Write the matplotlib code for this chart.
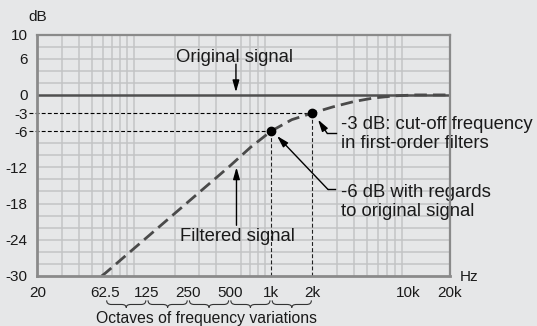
import numpy as np
import matplotlib
matplotlib.use("Agg")
import matplotlib.pyplot as plt
from matplotlib.path import Path
from matplotlib.patches import PathPatch
from matplotlib.ticker import LogLocator, NullFormatter
from matplotlib.transforms import blended_transform_factory

plt.rcParams["font.family"] = ["Liberation Sans", "DejaVu Sans"]

# values
FREQ_HZ = [58.6, 62.5, 125, 250, 500, 707, 1000, 1414, 2000, 2800, 4000, 5600, 8000, 11300, 20000]
GAIN_DB = [-30, -29.5, -23.6, -17.7, -11.8, -8.7, -6.0, -4.1, -3.0, -2.0, -1.1, -0.5, -0.15, 0, 0]

MARK_FREQ = [1000, 2000]
MARK_DB = [-6, -3]

X_TICKS = [20, 62.5, 125, 250, 500, 1000, 2000, 10000, 20000]
X_LABELS = ["20", "62.5", "125", "250", "500", "1k", "2k", "10k", "20k"]
Y_TICKS = [10, 6, 0, -3, -6, -12, -18, -24, -30]
OCTAVES = [(62.5, 125), (125, 250), (250, 500), (500, 1000), (1000, 2000)]

BG = "#e6e7e8"
GRID = "#c3c4c5"
SPINE = "#8a8a8a"
TEXT = "#1a1a1a"


def draw_brace(ax, x0, x1, y_top=-0.101, y_mid=-0.118, y_tip=-0.131):
    # under-brace between two frequencies, x in data, y in axes coords
    trans = blended_transform_factory(ax.transData, ax.transAxes)
    l0, l1 = np.log10(x0) + 0.008, np.log10(x1) - 0.008
    lm = (l0 + l1) / 2
    d = (l1 - l0) * 0.12
    pts = [
        (l0, y_top), (l0, y_mid), (l0 + d, y_mid),
        (lm - d, y_mid), (lm, y_mid), (lm, y_tip),
        (lm, y_mid), (lm + d, y_mid),
        (l1 - d, y_mid), (l1, y_mid), (l1, y_top),
    ]
    codes = [Path.MOVETO, Path.CURVE3, Path.CURVE3,
             Path.LINETO, Path.CURVE3, Path.CURVE3,
             Path.CURVE3, Path.CURVE3,
             Path.LINETO, Path.CURVE3, Path.CURVE3]
    verts = [(10 ** x, y) for x, y in pts]
    patch = PathPatch(Path(verts, codes), transform=trans, fill=False,
                      edgecolor="#333333", lw=0.8, clip_on=False)
    ax.add_patch(patch)


def arrow(ax, tail, tip):
    ax.annotate("", xy=tip, xytext=tail,
                arrowprops=dict(arrowstyle="-|>,head_length=0.7,head_width=0.2",
                                color="black", lw=1.0, shrinkA=0, shrinkB=0))


fig = plt.figure(figsize=(5.37, 3.26), dpi=100, facecolor=BG)
ax = fig.add_axes([0.0698, 0.1534, 0.7682, 0.7406], facecolor=BG)

ax.set_xscale("log")
ax.set_xlim(20, 20000)
ax.set_ylim(-30, 10)

# grid
ax.xaxis.set_minor_locator(LogLocator(base=10, subs=np.arange(1, 10), numticks=20))
ax.xaxis.set_minor_formatter(NullFormatter())
ax.grid(which="minor", axis="x", color=GRID, lw=1.1, zorder=0)
for y in range(-28, 10, 2):
    if y in (-6, -4, -2, 0):
        continue
    ax.axhline(y, color=GRID, lw=1.1, zorder=0)

ax.set_xticks(X_TICKS)
ax.set_xticklabels(X_LABELS)
ax.set_yticks(Y_TICKS)
ax.set_yticklabels([str(v) for v in Y_TICKS])
ax.tick_params(which="both", length=0, labelsize=11, colors=TEXT)
ax.tick_params(axis="x", pad=7)
ax.tick_params(axis="y", pad=7)

for side, sp in ax.spines.items():
    sp.set_color(SPINE)
    sp.set_linewidth(2.0 if side in ("left", "bottom") else 1.6)
    sp.set_zorder(6)

# original signal
ax.axhline(0, color="#505050", lw=1.8, zorder=3)

# guide lines to the two marked points
for f, db in zip(MARK_FREQ, MARK_DB):
    ax.plot([17.4, f], [db, db], color="black", lw=0.8, dashes=(3.5, 2),
            clip_on=False, zorder=2.5)
    ax.plot([f, f], [-30, db], color="#222222", lw=0.8, dashes=(3.5, 2), zorder=2.5)

# filtered signal
ax.plot(FREQ_HZ, GAIN_DB, color="#4a4a4a", lw=2.0, dashes=(4.5, 2.2), zorder=4)
ax.plot(MARK_FREQ, MARK_DB, "o", color="black", ms=6, zorder=5)

# annotations
ax.text(542, 6.2, "Original signal", ha="center", va="center", fontsize=13.3, color=TEXT)
arrow(ax, (555, 5.1), (555, 0.45))

ax.text(570, -23.5, "Filtered signal", ha="center", va="center", fontsize=13.3, color=TEXT)
arrow(ax, (560, -21.6), (560, -12.0))

ax.text(3230, -6.5, "-3 dB: cut-off frequency\nin first-order filters", ha="left",
        va="center", fontsize=13.3, color=TEXT, linespacing=1.15)
ax.plot([2965, 2551], [-6.33, -6.33], color="black", lw=1.0, zorder=5)
arrow(ax, (2551, -6.33), (2193, -4.1))

ax.text(3230, -17.8, "-6 dB with regards\nto original signal", ha="left",
        va="center", fontsize=13.3, color=TEXT, linespacing=1.15)
ax.plot([2914, 2594], [-15.67, -15.67], color="black", lw=1.0, zorder=5)
arrow(ax, (2594, -15.67), (1104, -6.8))

for lo, hi in OCTAVES:
    draw_brace(ax, lo, hi)

fig.text(0.0698, 0.948, "dB", ha="center", va="center", fontsize=11, color=TEXT)
fig.text(0.873, 0.150, "Hz", ha="center", va="center", fontsize=11, color=TEXT)
fig.text(207 / 537, 1 - 318 / 326, "Octaves of frequency variations", ha="center",
         va="center", fontsize=11.3, color=TEXT)

fig.savefig("out.png", dpi=100, facecolor=BG)
